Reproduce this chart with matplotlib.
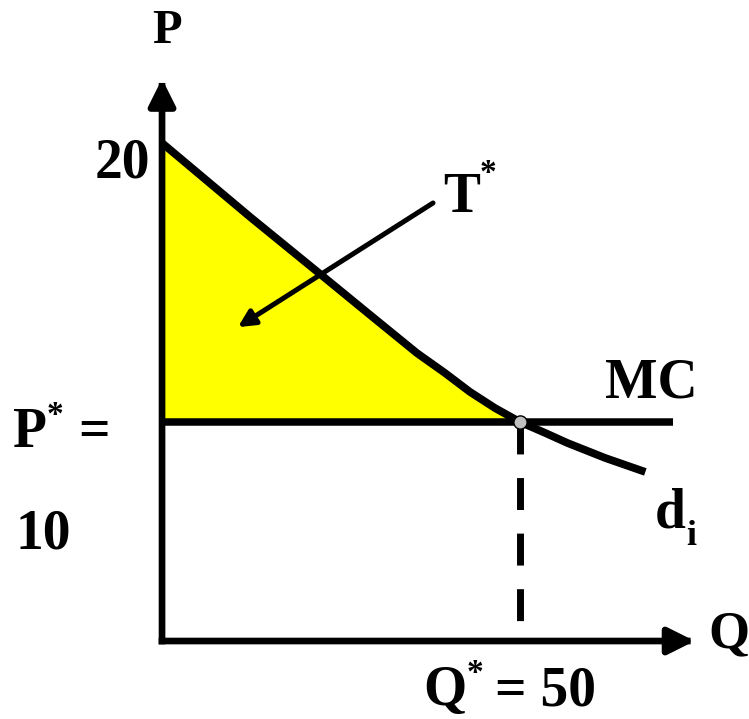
import matplotlib
matplotlib.use("Agg")
import matplotlib.pyplot as plt

plt.rcParams['font.family'] = ['Liberation Serif', 'DejaVu Serif']
plt.rcParams['font.weight'] = 'bold'

# demand curve d_i (Q, P)
demand_q = [0, 12.3, 22.1, 29.0, 35.6, 39.5, 43.0, 46.5, 50, 53.5, 56.6, 61.9, 67.5]
demand_p = [20, 17.35, 15.3, 13.85, 12.47, 11.76, 11.08, 10.5, 10, 9.61, 9.25, 8.71, 8.21]

mc_price = 10        # P* = MC
q_star = 50          # Q*
p_top = 20
mc_end = 71.4        # where the MC line stops

# axis extents (in data units)
q_axis_end = 74.4
p_axis_end = 22.3
p_axis_base = 2.15   # height where the Q axis is drawn


def px(x, y):
    # picture pixel -> (Q, P)
    return (x - 162) / 7.16, 10 + (422 - y) / 27.9


fig = plt.figure(figsize=(7.49, 7.19), dpi=100)
ax = fig.add_axes([0, 0, 1, 1])
ax.set_xlim(-22.63, 81.98)
ax.set_ylim(-0.645, 25.125)
ax.axis('off')

# yellow triangle T*
k = demand_q.index(q_star) + 1
ax.fill_between(demand_q[:k], demand_p[:k], mc_price, color='#FFFF00', lw=0, zorder=1)

# MC line
ax.plot([0, mc_end], [mc_price, mc_price], color='black', lw=5.4, solid_capstyle='butt', zorder=2)

# demand curve
ax.plot(demand_q, demand_p, color='black', lw=5.6, solid_capstyle='butt',
        solid_joinstyle='round', zorder=3)

# dashed drop line at Q*
ax.plot([q_star, q_star], [mc_price, p_axis_base], color='black', lw=5,
        dashes=(4.6, 3.4), dash_capstyle='butt', zorder=2)

# axes with arrow heads
arrow_kw = dict(arrowstyle='-|>', lw=4.8, color='black', mutation_scale=40,
                shrinkA=0, shrinkB=0, capstyle='projecting')
ax.annotate('', xy=(0, p_axis_end), xytext=(0, p_axis_base), arrowprops=arrow_kw, zorder=4)
ax.annotate('', xy=(q_axis_end, p_axis_base), xytext=(0, p_axis_base), arrowprops=arrow_kw, zorder=4)

# equilibrium point
ax.plot([q_star], [mc_price], 'o', ms=9.5, mfc='#C0C0C0', mec='black', mew=1, zorder=5)

# T* pointer
ax.annotate('', xy=(10.6, 13.4), xytext=(37.85, 17.85),
            arrowprops=dict(arrowstyle='-|>', lw=3.6, color='black', mutation_scale=25,
                            shrinkA=0, shrinkB=0), zorder=6)

# labels
fs = 40
star = 24
ax.text(*px(167, 31), 'P', fontsize=35, ha='center', va='center')
ax.text(*px(150, 178), str(p_top), fontsize=fs, ha='right', va='baseline')

ax.text(*px(443, 212), 'T', fontsize=fs, ha='left', va='baseline')
ax.text(*px(480, 158), '*', fontsize=star, ha='left', va='top')

ax.text(*px(605, 398), 'MC', fontsize=fs, ha='left', va='baseline')

ax.text(*px(655, 528), 'd', fontsize=fs, ha='left', va='baseline')
ax.text(*px(686, 545), 'i', fontsize=26, ha='left', va='baseline')

ax.text(*px(13, 447), 'P', fontsize=fs, ha='left', va='baseline')
ax.text(*px(47, 400), '*', fontsize=star, ha='left', va='top')
ax.text(*px(78, 447), '=', fontsize=fs, ha='left', va='baseline')
ax.text(*px(15, 548), str(mc_price), fontsize=fs, ha='left', va='baseline')

ax.text(*px(423, 705), 'Q', fontsize=fs, ha='left', va='baseline')
ax.text(*px(467, 658), '*', fontsize=star, ha='left', va='top')
ax.text(*px(495, 705), '= ' + str(q_star), fontsize=fs, ha='left', va='baseline')

ax.text(*px(708, 647), 'Q', fontsize=38, ha='left', va='baseline')

fig.savefig('out.png', dpi=100)
